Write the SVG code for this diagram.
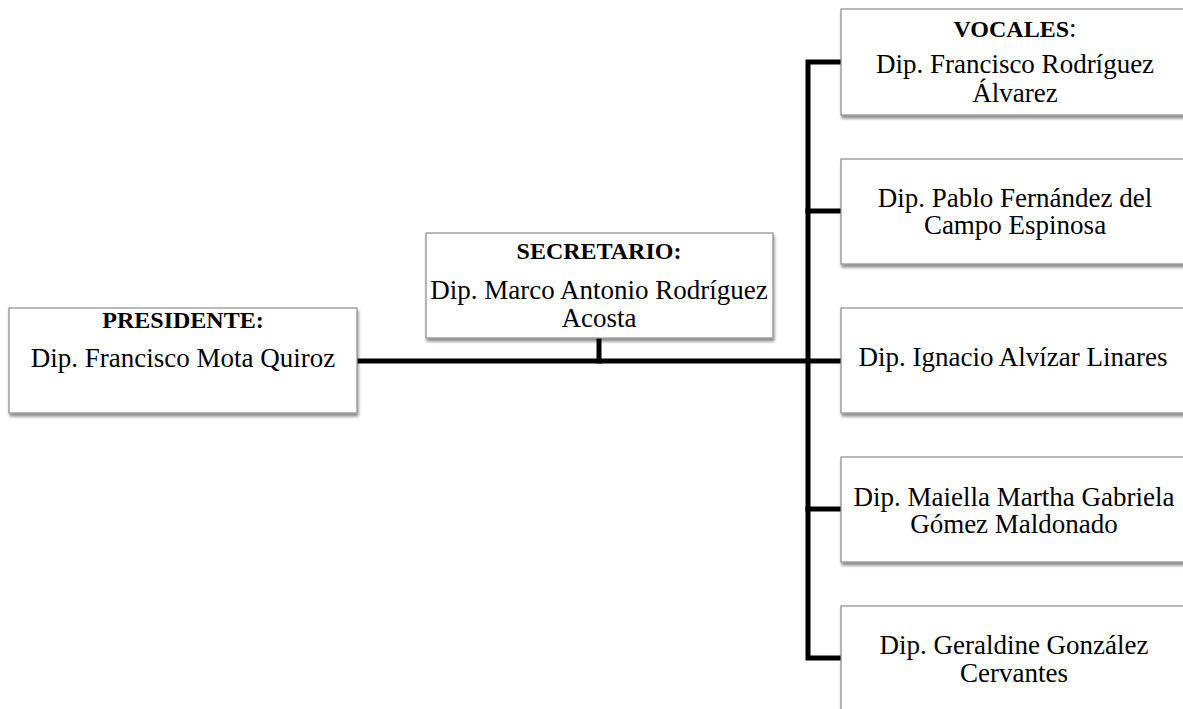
<svg xmlns="http://www.w3.org/2000/svg" width="1183" height="709" viewBox="0 0 1183 709">
<style>
.box{fill:#fff;stroke:#8c8c8c;stroke-width:1.2;filter:url(#sh)}
.t{font-family:"Liberation Serif","Times New Roman",serif;font-size:27px;fill:#000;text-anchor:middle}
.b{font-weight:bold;font-size:24px}
.c{fill:none;stroke:#000;stroke-width:5;stroke-linecap:square;stroke-linejoin:miter}
</style>
<defs>
<filter id="sh" x="-5%" y="-5%" width="115%" height="125%">
<feGaussianBlur in="SourceAlpha" stdDeviation="1.5"/>
<feOffset dx="1" dy="3" result="o"/>
<feComponentTransfer><feFuncA type="linear" slope="0.45"/></feComponentTransfer>
<feMerge><feMergeNode/><feMergeNode in="SourceGraphic"/></feMerge>
</filter>
</defs>
<rect width="1183" height="709" fill="#fff"/>
<g id="connectors">
<path class="c" d="M359 361 H841"/>
<path class="c" d="M599 340 V361"/>
<path class="c" d="M841 62 H808 V658 H841"/>
<path class="c" d="M808 211 H841"/>
<path class="c" d="M808 509 H841"/>
</g>
<g id="presidente">
<rect class="box" x="9" y="308" width="348" height="105"/>
<text class="t b" x="183" y="328">PRESIDENTE:</text>
<text class="t" x="183" y="367">Dip. Francisco Mota Quiroz</text>
</g>
<g id="secretario">
<rect class="box" x="426" y="233" width="347" height="105"/>
<text class="t b" x="599" y="259">SECRETARIO:</text>
<text class="t" x="599" y="299">Dip. Marco Antonio Rodríguez</text>
<text class="t" x="599" y="327">Acosta</text>
</g>
<g id="vocal1">
<rect class="box" x="841" y="9" width="348" height="106"/>
<text class="t" x="1015" y="37"><tspan class="b">VOCALES</tspan>:</text>
<text class="t" x="1015" y="73">Dip. Francisco Rodríguez</text>
<text class="t" x="1015" y="102">Álvarez</text>
</g>
<g id="vocal2">
<rect class="box" x="841" y="159" width="348" height="105"/>
<text class="t" x="1015" y="207">Dip. Pablo Fernández del</text>
<text class="t" x="1015" y="234">Campo Espinosa</text>
</g>
<g id="vocal3">
<rect class="box" x="841" y="308" width="348" height="105"/>
<text class="t" x="1013" y="366">Dip. Ignacio Alvízar Linares</text>
</g>
<g id="vocal4">
<rect class="box" x="841" y="457" width="348" height="105"/>
<text class="t" x="1014" y="506">Dip. Maiella Martha Gabriela</text>
<text class="t" x="1014" y="533">Gómez Maldonado</text>
</g>
<g id="vocal5">
<rect class="box" x="841" y="606" width="348" height="110"/>
<text class="t" x="1014" y="654">Dip. Geraldine González</text>
<text class="t" x="1014" y="682">Cervantes</text>
</g>
</svg>
